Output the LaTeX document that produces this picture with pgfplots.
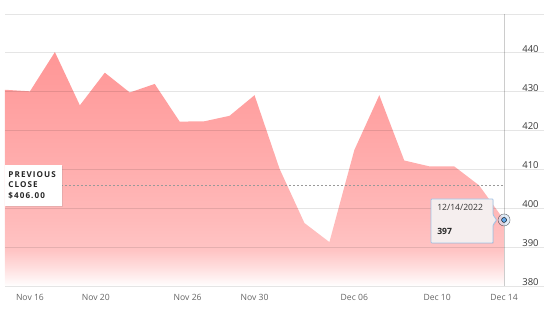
\documentclass[border=0pt]{standalone}
\usepackage{pgfplots}
\pgfplotsset{compat=1.18}
\usepackage{fontspec}
\setmainfont{Open Sans}
\usetikzlibrary{shadows}
\definecolor{c0}{RGB}{255,255,255}
\definecolor{c1}{RGB}{255,240,240}
\definecolor{c2}{RGB}{255,218,218}
\definecolor{c3}{RGB}{255,196,196}
\definecolor{c4}{RGB}{255,186,186}
\definecolor{c5}{RGB}{255,170,170}
\definecolor{c6}{RGB}{255,150,150}
\definecolor{xlab}{RGB}{100,100,100}
\definecolor{ylab}{RGB}{55,55,55}
\definecolor{tipfill}{RGB}{245,238,238}
\definecolor{tipborder}{RGB}{160,196,232}
\definecolor{halo}{RGB}{205,225,245}
\definecolor{dot}{RGB}{100,168,232}
\pgfdeclareverticalshading{areashade}{100bp}{color(0bp)=(c0); color(25bp)=(c0); color(26.7bp)=(c1); color(29.5bp)=(c2); color(32.7bp)=(c3); color(39bp)=(c4); color(54bp)=(c5); color(75bp)=(c6); color(100bp)=(c6)}
\begin{document}
\begin{tikzpicture}[x=1pt,y=1pt]
\useasboundingbox (0,0) rectangle (550,322);
\begin{axis}[
  at={(5pt,36pt)}, anchor=south west,
  scale only axis, width=539pt, height=272pt,
  xmin=0, xmax=21.6, ymin=380, ymax=450,
  axis line style={draw=none},
  major tick length=0pt,
  axis on top,
  ymajorgrids,
  grid style={black, opacity=0.1, line width=0.9pt},
  ytick={380,390,...,450},
  yticklabels={380,390,400,410,420,430,440,{}},
  yticklabel pos=right,
  yticklabel style={anchor=center, xshift=-13.5pt, yshift=4pt, font=\fontsize{9.5}{10}\selectfont, text=ylab},
  xtick={1,3.64,7.32,10,14,17.32,20},
  xticklabels={Nov 16,Nov 20,Nov 26,Nov 30,Dec 06,Dec 10,Dec 14},
  xticklabel style={anchor=center, yshift=-11pt, font=\fontsize{8.6}{10}\selectfont, text=xlab},
  clip=false,
]
\addplot[draw=none, shading=areashade] coordinates {(0,380) (0,430.5) (1,430.1) (2,440.2) (3,426.5) (4,434.9) (5,429.8) (6,432.0) (7,422.3) (8,422.4) (9,423.8) (10,429.1) (11,410.2) (12,396.2) (13,391.3) (14,415.0) (15,429.1) (16,412.3) (17,410.8) (18,410.8) (19,405.9) (20,397.0) (20,380)};
\draw[black!20, line width=0.8pt] (axis cs:20,380) -- (axis cs:20,450);
\draw[black!40, line width=0.6pt, dash pattern=on 2pt off 2pt] (axis cs:0,406) -- (axis cs:20,406);
\addplot[only marks, mark=*, mark size=6pt, mark options={fill=halo, draw=none, opacity=0.6}] coordinates {(20,397.0)};
\addplot[only marks, mark=*, mark size=2.5pt, mark options={fill=dot, draw=none}] coordinates {(20,397.0)};
\coordinate (m) at (axis cs:20,397);
\coordinate (pc) at (axis cs:0,406);
\end{axis}
\fill[white, drop shadow={opacity=0.18, shadow xshift=1pt, shadow yshift=-1.5pt}] ([shift={(0,20)}]pc) rectangle ([shift={(57,-21)}]pc);
\node[anchor=west, align=left, inner sep=0pt, text=black!85, font={\fontsize{8.1}{10.6}\selectfont\bfseries\addfontfeatures{LetterSpace=13}}] at ([shift={(3.3,0)}]pc) {PREVIOUS\\CLOSE\\\$406.00};
\filldraw[fill=tipfill, draw=tipborder, line width=0.8pt, rounded corners=0.8pt, drop shadow={opacity=0.12, shadow xshift=0.8pt, shadow yshift=-0.8pt}] ([shift={(-73,21)}]m) -- ([shift={(-11,21)}]m) -- ([shift={(-11,5)}]m) -- ([shift={(-7.5,0)}]m) -- ([shift={(-11,-5)}]m) -- ([shift={(-11,-23)}]m) -- ([shift={(-73,-23)}]m) -- cycle;
\node[anchor=west, inner sep=0pt, text=black!80, font=\fontsize{8.6}{10}\selectfont] at ([shift={(-67,12.3)}]m) {12/14/2022};
\node[anchor=west, inner sep=0pt, text=black!85, font=\fontsize{8.6}{10}\selectfont\bfseries] at ([shift={(-67,-11.7)}]m) {397};
\end{tikzpicture}
\end{document}
